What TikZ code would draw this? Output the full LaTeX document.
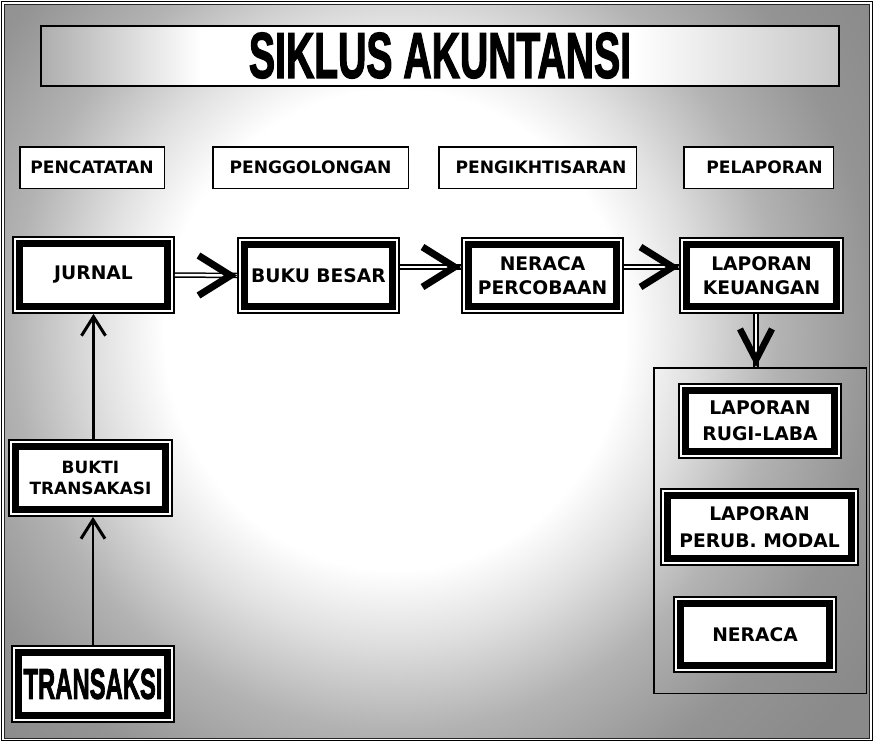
\documentclass[tikz,border=0pt]{standalone}
\usepackage{fontspec}
\usepackage{graphicx}
\setmainfont{DejaVu Sans}
\newfontfamily\titlefont{Liberation Sans}[BoldFeatures={FakeBold=2.5}]
\usetikzlibrary{arrows.meta,calc}
\pgfdeclareradialshading{bgshade}{\pgfpoint{0bp}{0bp}}{color(0bp)=(white); color(12bp)=(white); color(15.5bp)=(black!12); color(20bp)=(black!30); color(25bp)=(black!42); color(30bp)=(black!46); color(50bp)=(black!46)}
\pgfdeclarehorizontalshading{titleshade}{100bp}{color(0bp)=(black!32); color(25bp)=(black!32); color(35bp)=(white); color(62bp)=(white); color(75bp)=(black!22); color(100bp)=(black!22)}
\tikzset{
  mainbox/.style={draw, line width=1.8pt, fill=white, inner sep=0pt,
    font=\bfseries\fontsize{18.7}{24}\selectfont,
    path picture={\draw[line width=6.7pt]
      ([shift={(6.75pt,-6.75pt)}]path picture bounding box.north west) rectangle
      ([shift={(-6.75pt,6.75pt)}]path picture bounding box.south east);}},
  ml/.style={align=center},
  lbox/.style={draw, line width=1.5pt, fill=white, inner sep=0pt,
    font=\bfseries\fontsize{17.1}{20}\selectfont, minimum height=41.5},
  dbl/.style={draw, line width=1.5pt, double=white, double distance=2.5pt},
  bighead/.style={line width=0.1pt, -{Straight Barb[length=32pt, width=40pt, line width=7pt]}},
  downhead/.style={line width=0.1pt, -{Straight Barb[length=31pt, width=32pt, line width=6.5pt]}},
  uparrow/.style={line width=2.8pt, -{Straight Barb[length=19pt, width=24pt, line width=3pt]}},
}
\begin{document}
\begin{tikzpicture}[x=1pt, y=-1pt]
\useasboundingbox (0,0) rectangle (875,744);
\fill[white] (0,0) rectangle (875,744);
\begin{scope}
  \clip (4,4) rectangle (869,738);
  \shade[shading=bgshade] (-85,-170) rectangle (875,830);
\end{scope}
\draw[black!85, line width=1pt] (4,4) rectangle (869,738);
\draw[line width=1.5pt] (1.5,1.5) rectangle (872.5,740.5);

% title
\node[draw, line width=2pt, shading=titleshade, inner sep=0pt,
  minimum width=798, minimum height=60] (title) at (440,55.5)
  {\resizebox{382pt}{45pt}{\titlefont\bfseries SIKLUS AKUNTANSI}};

% stage labels
\node[lbox, minimum width=144.5] (penc) at (92,167.5) {PENCATATAN};
\node[lbox, minimum width=195.5] (peng) at (310.5,167.5) {PENGGOLONGAN};
\node[lbox, minimum width=197.5] (pengi) at (537.5,167.5) {\hspace*{7pt}PENGIKHTISARAN};
\node[lbox, minimum width=149.5] (pel) at (758.5,167.5) {\hspace*{12pt}PELAPORAN};

% main boxes
\node[mainbox, minimum width=161, minimum height=76] (jurnal) at (93.5,275) {JURNAL};
\node[mainbox, minimum width=161, minimum height=75] (buku) at (318.5,275.5) {BUKU BESAR};
\node[mainbox, ml, minimum width=161, minimum height=75] (neraca) at (542.5,275.5) {NERACA\\PERCOBAAN};
\node[mainbox, ml, minimum width=163, minimum height=75] (lapkeu) at (761.5,275.5) {LAPORAN\\KEUANGAN};
\node[mainbox, ml, minimum width=163, minimum height=76,
  font=\bfseries\fontsize{16.9}{21}\selectfont] (bukti) at (90.5,478) {BUKTI\\TRANSAKASI};
\node[mainbox, minimum width=162, minimum height=76] (trans) at (93,684)
  {\resizebox{139pt}{30pt}{\titlefont\bfseries TRANSAKSI}};

% report group
\node[draw, line width=1.5pt, inner sep=0pt, minimum width=212.5, minimum height=325.5] (grp) at (760,530.5) {};
\node[mainbox, ml, minimum width=162, minimum height=74,
  font=\bfseries\fontsize{18.8}{26}\selectfont] (rugi) at (760,421) {LAPORAN\\RUGI-LABA};
\node[mainbox, ml, minimum width=197, minimum height=76,
  font=\bfseries\fontsize{18.7}{27}\selectfont] (perub) at (759.5,527) {LAPORAN\\PERUB. MODAL};
\node[mainbox, minimum width=162, minimum height=75] (ner2) at (755,634.5) {NERACA};

% horizontal arrows
\draw[dbl] (jurnal.east) -- (buku.west);
\draw[bighead] ([xshift=-3pt]buku.west) -- (buku.west);
\draw[dbl] ([yshift=8.5pt]buku.east) -- ([yshift=8.5pt]neraca.west);
\draw[bighead] ([xshift=-3pt,yshift=8.5pt]neraca.west) -- ([yshift=8.5pt]neraca.west);
\draw[dbl] ([yshift=8.5pt]neraca.east) -- ([yshift=8.5pt]lapkeu.west);
\draw[bighead] ([xshift=-3pt,yshift=8.5pt]lapkeu.west) -- ([yshift=8.5pt]lapkeu.west);

% down arrow
\coordinate (dtop) at ([xshift=-5.5pt]lapkeu.south);
\coordinate (dbot) at (dtop |- grp.north);
\draw[dbl] (dtop) -- (dbot);
\draw[downhead] ([yshift=3pt]dbot) -- (dbot);

% up arrows
\draw[uparrow] (trans.north) -- (trans.north |- bukti.south);
\draw[uparrow] (jurnal.south |- bukti.north) -- (jurnal.south);
\end{tikzpicture}
\end{document}
